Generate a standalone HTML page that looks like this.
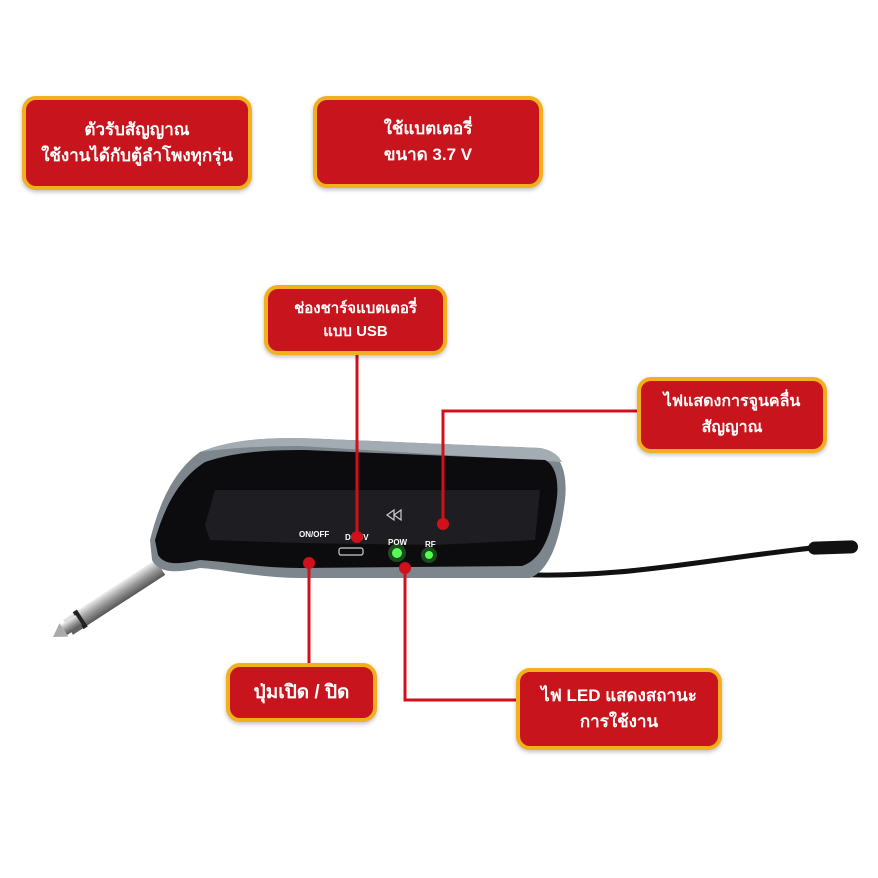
<!DOCTYPE html>
<html><head><meta charset="utf-8"><style>
html,body{margin:0;padding:0;background:#fff;}
body{width:878px;height:878px;position:relative;overflow:hidden;font-family:"Liberation Sans","DejaVu Sans",sans-serif;}
.b{position:absolute;box-sizing:border-box;background:#c8141c;border:4px solid #f2b01e;border-radius:14px;color:#fff;font-weight:bold;font-size:17px;line-height:26px;text-align:center;display:flex;align-items:center;justify-content:center;box-shadow:0 2px 4px rgba(0,0,0,.25);}
svg{position:absolute;left:0;top:0;}
</style></head><body>
<svg width="878" height="878" viewBox="0 0 878 878">
<defs>
<linearGradient id="jk" x1="0" y1="0" x2="0" y2="1"><stop offset="0" stop-color="#eee"/><stop offset=".5" stop-color="#999"/><stop offset="1" stop-color="#555"/></linearGradient>
</defs>
<!-- cable -->
<path d="M505 574 C620 580 700 560 812 548" stroke="#111" stroke-width="5" fill="none"/>
<rect x="808" y="541" width="50" height="13" rx="6.5" fill="#111" transform="rotate(-2 833 547)"/>
<!-- jack -->
<g transform="rotate(-33 110 600)">
<rect x="60" y="591" width="110" height="18" fill="url(#jk)"/>
<rect x="72" y="590" width="5" height="20" fill="#222"/>
<rect x="55" y="594" width="18" height="12" fill="url(#jk)"/>
<path d="M42 600 L55 592 L55 608 Z" fill="#aaa"/>
</g>
<!-- body shell -->
<path d="M150 540 C160 500 175 470 200 452 C230 440 260 438 300 438 L540 448 C560 452 568 470 565 500 C560 540 550 570 530 578 L300 578 C260 578 230 570 200 568 C180 572 160 575 152 560 Z" fill="#7d868c"/>
<path d="M200 452 C230 440 260 438 300 438 L540 448 C552 450 558 455 562 462 L300 446 C260 446 230 448 200 452 Z" fill="#a3acb2"/>
<path d="M155 540 C165 505 180 478 205 462 C235 452 265 450 305 450 L545 460 C555 465 560 480 556 505 C550 540 540 560 522 566 L300 568 C260 568 230 562 200 560 C180 564 165 566 158 555 Z" fill="#0c0c0e"/>
<path d="M205 525 L215 490 L540 490 L535 540 L435 545 L300 543 L210 540 Z" fill="#1e1e22"/>
<!-- labels on device -->
<text x="299" y="537" fill="#fff" font-size="8" font-weight="bold">ON/OFF</text>
<text x="345" y="540" fill="#fff" font-size="8" font-weight="bold">DC 5V</text>
<rect x="339" y="548" width="24" height="7" rx="2" fill="none" stroke="#ccc" stroke-width="1.2"/>
<text x="388" y="545" fill="#fff" font-size="8" font-weight="bold">POW</text>
<text x="425" y="547" fill="#fff" font-size="8" font-weight="bold">RF</text>
<path d="M394 510 L387 515 L394 520 Z M401 510 L394 515 L401 520 Z" fill="none" stroke="#ccc" stroke-width="1.2"/>
<circle cx="397" cy="553" r="5" fill="#5f5"/><circle cx="397" cy="553" r="9" fill="#5f5" opacity=".25"/>
<circle cx="429" cy="555" r="4" fill="#5f5"/><circle cx="429" cy="555" r="8" fill="#5f5" opacity=".25"/>
<!-- connectors -->
<g stroke="#d0101a" stroke-width="3" fill="none">
<path d="M357 355 L357 537"/>
<path d="M637 411 L443 411 L443 524"/>
<path d="M309 663 L309 563"/>
<path d="M516 700 L405 700 L405 568"/>
</g>
<g fill="#d0101a">
<circle cx="357" cy="537" r="6"/><circle cx="443" cy="524" r="6"/>
<circle cx="309" cy="563" r="6"/><circle cx="405" cy="568" r="6"/>
</g>
</svg>
<div class="b" style="left:22px;top:96px;width:230px;height:94px;">ตัวรับสัญญาณ<br>ใช้งานได้กับตู้ลำโพงทุกรุ่น</div>
<div class="b" style="left:313px;top:96px;width:230px;height:92px;">ใช้แบตเตอรี่<br>ขนาด 3.7 V</div>
<div class="b" style="left:264px;top:285px;width:183px;height:70px;font-size:15px;line-height:23px;">ช่องชาร์จแบตเตอรี่<br>แบบ USB</div>
<div class="b" style="left:637px;top:377px;width:190px;height:76px;font-size:16px;">ไฟแสดงการจูนคลื่น<br>สัญญาณ</div>
<div class="b" style="left:226px;top:663px;width:151px;height:59px;font-size:19px;">ปุ่มเปิด / ปิด</div>
<div class="b" style="left:516px;top:668px;width:206px;height:82px;">ไฟ LED แสดงสถานะ<br>การใช้งาน</div>
</body></html>
